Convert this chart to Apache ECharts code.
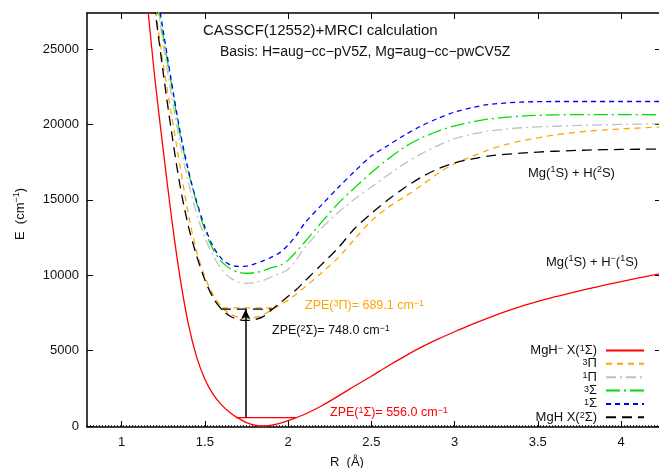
<!DOCTYPE html>
<html><head><meta charset="utf-8">
<script src="https://cdn.jsdelivr.net/npm/echarts@6/dist/echarts.min.js"></script>
<style>html,body{margin:0;padding:0;background:#fff}#c{width:659px;height:468px}</style>
</head><body><div id="c"></div>
<script>
// ---- axis ticks ----
const xTicks = [1, 1.5, 2, 2.5, 3, 3.5, 4];
const yTicks = [0, 5000, 10000, 15000, 20000, 25000];

// ---- series names (legend order) ----
const names = ['MgH- X1S', '3Pi', '1Pi', '3Sigma', '1Sigma', 'MgH X2S'];

// ---- MgH- X(1Σ) ----
const rRed = [1.14,1.16,1.20,1.25,1.30,1.35,1.40,1.45,1.50,1.55,1.60,1.65,1.70,1.75,1.80,1.85,1.90,1.95,2.00,2.05,2.10,2.20,2.30,2.40,2.50,2.60,2.70,2.80,2.90,3.00,3.10,3.20,3.30,3.40,3.50,3.60,3.70,3.80,3.90,4.00,4.10,4.24];
const eRed = [29500,27400,23000,18300,13800,9900,6800,4600,3100,2100,1400,900,520,230,60,0,60,180,350,560,780,1330,1980,2650,3300,3980,4620,5230,5760,6250,6720,7160,7570,7940,8260,8560,8830,9090,9340,9570,9800,10120];

// ---- 3Π ----
const rOrange = [1.19,1.20,1.25,1.30,1.35,1.40,1.45,1.50,1.55,1.60,1.65,1.70,1.75,1.80,1.85,1.90,1.95,2.00,2.05,2.10,2.20,2.30,2.40,2.50,2.60,2.70,2.80,2.90,3.00,3.10,3.20,3.30,3.40,3.60,3.80,4.00,4.24];
const eOrange = [29000,27900,24000,20600,17300,14100,11600,9900,8700,7900,7450,7220,7150,7200,7380,7700,8000,8350,8750,9200,10150,11150,12400,13600,14500,15200,15950,16750,17400,17850,18300,18650,18900,19300,19550,19700,19830];

// ---- 1Π ----
const rGray = [1.20,1.22,1.25,1.30,1.35,1.40,1.45,1.50,1.55,1.60,1.65,1.70,1.75,1.80,1.85,1.90,2.00,2.10,2.20,2.30,2.40,2.50,2.60,2.70,2.80,2.90,3.00,3.10,3.20,3.40,3.60,3.80,4.00,4.24];
const eGray = [29200,27600,25300,21900,18800,16200,14100,12500,11300,10400,9850,9550,9460,9520,9650,9900,10400,11800,13100,14150,15050,15850,16650,17400,18050,18600,19050,19350,19550,19780,19880,19950,20000,20050];

// ---- 3Σ ----
const rGreen = [1.20,1.22,1.25,1.30,1.35,1.40,1.45,1.50,1.55,1.60,1.65,1.70,1.75,1.80,1.85,1.90,1.95,2.00,2.10,2.20,2.30,2.40,2.50,2.60,2.70,2.80,2.90,3.00,3.10,3.20,3.40,3.60,3.80,4.00,4.24];
const eGreen = [29500,27900,25800,22600,19400,16900,14800,13000,11700,10900,10450,10200,10130,10170,10300,10500,10650,11000,12200,13500,14750,15800,16800,17700,18500,19100,19550,19900,20150,20350,20550,20630,20650,20650,20640];

// ---- 1Σ ----
const rBlue = [1.21,1.23,1.25,1.30,1.35,1.40,1.45,1.50,1.55,1.60,1.65,1.70,1.75,1.80,1.85,1.90,1.95,2.00,2.05,2.10,2.20,2.30,2.40,2.50,2.60,2.70,2.80,2.90,3.00,3.10,3.20,3.40,3.60,3.80,4.00,4.24];
const eBlue = [29200,27600,26200,22800,19600,17000,14900,13200,11900,11100,10700,10580,10600,10750,10950,11200,11500,12000,12650,13450,14650,15800,16900,17900,18600,19300,19900,20400,20820,21100,21320,21480,21520,21520,21520,21520];

// ---- MgH X(2Σ) ----
const rBlack = [1.18,1.20,1.25,1.30,1.35,1.40,1.45,1.50,1.55,1.60,1.65,1.70,1.75,1.80,1.85,1.90,1.95,2.00,2.05,2.10,2.20,2.30,2.40,2.50,2.60,2.70,2.80,2.90,3.00,3.10,3.20,3.40,3.60,3.80,4.00,4.24];
const eBlack = [29000,27600,23400,19500,16000,13300,11300,9700,8500,7750,7300,7070,7000,7060,7250,7700,8150,8600,9050,9600,10700,11800,13100,14100,15000,15800,16500,17050,17450,17700,17900,18100,18220,18300,18340,18370];

// ---- ZPE levels ----
const zpeRedR = [1.686, 2.046];   const zpeRedE = [556, 556];
const zpeBlackR = [1.596, 1.906]; const zpeBlackE = [7748, 7748];
const zpeOrangeR = [1.605, 1.916]; const zpeOrangeE = [7839, 7839];
const arrowR = [1.745, 1.745];    const arrowE = [556, 7748];
const zeroR = [0.792, 4.24];      const zeroE = [0, 0];

const FONT = '"Liberation Sans", Arial, Helvetica, sans-serif';
const zip = (a, b) => a.map((v, i) => [v, b[i]]);

const legendLabels = {
  'MgH- X1S': 'MgH{sup|−} X({sup|1}Σ)',
  '3Pi': '{sup|3}Π',
  '1Pi': '{sup|1}Π',
  '3Sigma': '{sup|3}Σ',
  '1Sigma': '{sup|1}Σ',
  'MgH X2S': 'MgH X({sup|2}Σ)'
};

function curve(name, r, e, color, type, z) {
  return {
    name, type: 'line', data: zip(r, e), symbol: 'none', smooth: 0.3,
    lineStyle: { color, width: 1.3, type }, itemStyle: { color }, z: z || 2,
    silent: true
  };
}
function helper(r, e, color, type) {
  return { type: 'line', data: zip(r, e), symbol: 'none', silent: true,
    lineStyle: { color, width: 1.3, type }, z: 3 };
}

function txt(x, y, text, size, color) {
  const sup = Math.round(size * 0.7);
  return {
    type: 'text', x, y, silent: true,
    style: {
      text, fill: color, font: size + 'px ' + FONT, fontSize: size, fontFamily: FONT,
      align: 'left', verticalAlign: 'middle', lineHeight: size + 2,
      rich: {
        sup: { font: sup + 'px ' + FONT, fontSize: sup, fontFamily: FONT, fill: color, lineHeight: sup, verticalAlign: 'top' }
      }
    }
  };
}

const chart = echarts.init(document.getElementById('c'), null, { renderer: 'canvas' });

const axisLineStyle = { color: '#000', width: 1.5 };
const option = {
  animation: false,
  backgroundColor: '#fff',
  grid: { left: 87, right: -2, top: 13, bottom: 41, containLabel: false, outerBoundsMode: 'none' },
  xAxis: [
    { type: 'value', min: 0.792, max: 4.24, position: 'bottom',
      axisLine: { show: true, onZero: false, lineStyle: axisLineStyle },
      axisTick: { show: true, inside: true, length: 6, customValues: xTicks, lineStyle: { color: '#000', width: 1 } },
      axisLabel: { customValues: xTicks, margin: 9, color: '#111', fontSize: 13, fontFamily: FONT, formatter: v => String(v) },
      splitLine: { show: false } },
    { type: 'value', min: 0.792, max: 4.24, position: 'top',
      axisLine: { show: true, onZero: false, lineStyle: axisLineStyle },
      axisTick: { show: true, inside: true, length: 6, customValues: xTicks, lineStyle: { color: '#000', width: 1 } },
      axisLabel: { show: false }, splitLine: { show: false } }
  ],
  yAxis: [
    { type: 'value', min: -66, max: 27390, position: 'left',
      axisLine: { show: true, onZero: false, lineStyle: axisLineStyle },
      axisTick: { show: true, inside: true, length: 6, customValues: yTicks, lineStyle: { color: '#000', width: 1 } },
      axisLabel: { customValues: yTicks, margin: 8, color: '#111', fontSize: 13, fontFamily: FONT, formatter: v => String(v) },
      splitLine: { show: false } },
    { type: 'value', min: -66, max: 27390, position: 'right',
      axisLine: { show: true, onZero: false, lineStyle: axisLineStyle },
      axisTick: { show: true, inside: true, length: 6, customValues: yTicks, lineStyle: { color: '#000', width: 1 } },
      axisLabel: { show: false }, splitLine: { show: false } }
  ],
  legend: {
    data: names, orient: 'vertical', right: 14, top: 344, align: 'right', padding: 0,
    itemWidth: 38, itemHeight: 10, itemGap: 0.35, selectedMode: false,
    itemStyle: { opacity: 0 },
    formatter: n => legendLabels[n],
    textStyle: {
      fontSize: 13, fontFamily: FONT, color: '#111', lineHeight: 12, padding: [0, 4, 0, 0],
      rich: { sup: { fontSize: 9, lineHeight: 9, verticalAlign: 'top', fontFamily: FONT, color: '#111' } }
    }
  },
  series: [
    helper(zeroR, zeroE, '#000', [1, 2]),
    curve(names[0], rRed, eRed, '#FF0000', 'solid', 4),
    curve(names[1], rOrange, eOrange, '#FFA500', [6, 5]),
    curve(names[2], rGray, eGray, '#C0C0C0', [10, 4, 2, 4]),
    curve(names[3], rGreen, eGreen, '#00E000', [14, 4, 2, 4]),
    curve(names[4], rBlue, eBlue, '#0000FF', [5, 4]),
    curve(names[5], rBlack, eBlack, '#000000', [10, 6], 3),
    helper(zpeRedR, zpeRedE, '#FF0000', 'solid'),
    helper(zpeOrangeR, zpeOrangeE, '#FFA500', [6, 5]),
    helper(zpeBlackR, zpeBlackE, '#000000', [10, 6]),
    {
      type: 'line', data: [], symbol: 'none', silent: true,
      markLine: {
        silent: true, animation: false, symbol: ['none', 'arrow'], symbolSize: [7, 10],
        label: { show: false }, lineStyle: { color: '#000', width: 1.5, type: 'solid' },
        emphasis: { disabled: true },
        data: [[{ coord: [arrowR[0], arrowE[0]] }, { coord: [arrowR[1], arrowE[1]] }]]
      }
    }
  ],
  graphic: [
    txt(203, 31, 'CASSCF(12552)+MRCI calculation', 15, '#111'),
    txt(220, 52, 'Basis: H=aug−cc−pV5Z, Mg=aug−cc−pwCV5Z', 14, '#111'),
    txt(528, 173, 'Mg({sup|1}S) + H({sup|2}S)', 13, '#111'),
    txt(546, 262, 'Mg({sup|1}S) + H{sup|−}({sup|1}S)', 13, '#111'),
    txt(305, 306, 'ZPE({sup|3}Π)= 689.1 cm{sup|−1}', 12.5, '#FFA500'),
    txt(272, 331, 'ZPE({sup|2}Σ)= 748.0 cm{sup|−1}', 12.5, '#111'),
    txt(330, 413, 'ZPE({sup|1}Σ)= 556.0 cm{sup|−1}', 12.5, '#FF0000'),
    Object.assign(txt(20, 214, 'E  (cm{sup|−1})', 13, '#111'), { rotation: Math.PI / 2 }),
    txt(330, 462, 'R  (Å)', 13, '#111')
  ]
};
option.graphic[7].style.align = 'center';
chart.setOption(option);
</script>
</body></html>
